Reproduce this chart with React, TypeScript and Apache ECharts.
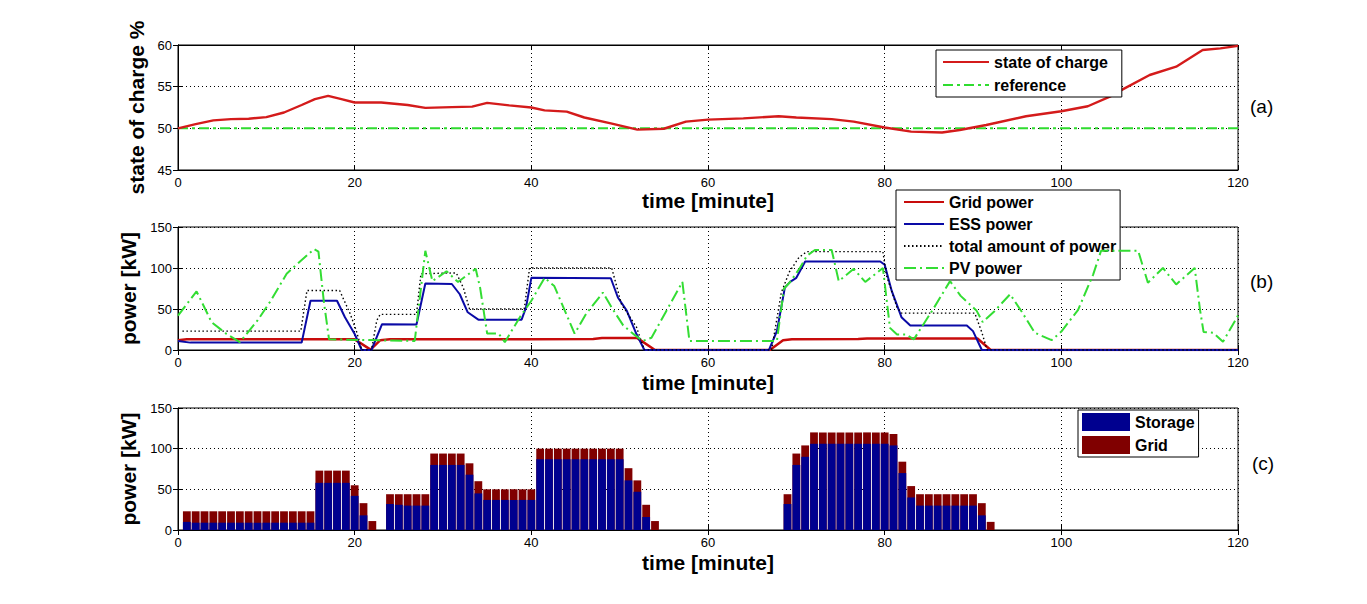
import React, { useEffect, useRef } from "react";
import * as echarts from "echarts";

const xMin = 0;
const xMax = 120;
const xStep = 20;

// (a) state of charge
const socTime = [0, 2, 4, 6, 8, 10, 12, 14, 15.5, 17, 18.5, 20, 23, 26, 28, 31, 33.3, 35, 37.5, 40, 41.5, 44, 46, 49, 52, 55, 57.5, 60, 64, 68, 70, 74, 76.5, 80, 83, 86.5, 88.5, 91.5, 96, 100, 103, 105.5, 107, 110, 113, 116, 118, 120];
const socValue = [50.0, 50.5, 50.95, 51.1, 51.15, 51.35, 51.9, 52.8, 53.5, 53.9, 53.5, 53.1, 53.1, 52.8, 52.45, 52.55, 52.6, 53.05, 52.75, 52.5, 52.15, 52.0, 51.3, 50.6, 49.85, 49.95, 50.8, 51.05, 51.2, 51.45, 51.3, 51.1, 50.8, 50.1, 49.6, 49.5, 49.8, 50.4, 51.45, 52.05, 52.65, 53.8, 54.7, 56.4, 57.4, 59.4, 59.6, 59.9];
const refTime = [0, 120];
const refValue = [50, 50];

// (b) power flows
const gridPowTime = [0, 1, 14, 20, 21.8, 22.9, 24, 40, 47, 48, 52, 54, 67, 68.5, 69.5, 77, 78, 90.5, 92, 120];
const gridPowValue = [12, 13, 13, 13, 0.5, 12, 13, 13, 13.5, 14.5, 14.5, 0, 0, 12, 13, 13.5, 14, 14, 0, 0];

const essTime = [0, 1.4, 14, 15, 18, 18.9, 20, 20.8, 21.9, 23.1, 27, 28, 31, 31.9, 32.8, 34, 38.9, 39.4, 40, 49, 49.8, 50.8, 51.9, 52.8, 66.9, 67.8, 68.7, 69.3, 70, 71, 79.5, 80, 80.8, 81.9, 82.9, 89.3, 90, 91, 120];
const essValue = [11, 9, 9, 60, 60, 40, 19.5, 0, 0, 31.5, 31, 81, 80.5, 68, 46, 37, 37, 52, 88, 87.5, 64, 48, 19.5, 0, 0, 23, 76, 83, 88, 108, 108, 104, 72, 40, 30, 30, 23, 0, 0];

const totalTime = [0.5, 13.9, 14.6, 18.3, 19.5, 20.2, 20.8, 21.9, 22.5, 22.9, 27, 27.5, 31.5, 32.3, 33, 39.2, 39.8, 49.1, 50.2, 51.9, 52.8, 67.2, 68.3, 69.2, 70.3, 71.2, 79.8, 80.2, 81.4, 81.9, 90.2, 91, 91.6, 120];
const totalValue = [23, 23, 72.5, 72.5, 44, 23, 0, 0, 36, 43.5, 43.5, 93, 94, 76, 50, 50, 100, 100, 56, 28, 0, 0, 70, 95, 113, 120, 120, 91, 52, 45, 45, 21.5, 0, 0];

const pvTime = [0, 2.1, 3.8, 5.5, 7, 9, 10.5, 12.3, 13, 15.4, 15.9, 16.5, 17.1, 26.8, 28, 28.8, 30.4, 31.7, 33.7, 34.2, 35, 36.3, 37, 38.7, 40, 41.5, 42.6, 44.9, 46.2, 48.1, 49.2, 50.4, 51.5, 52.6, 53.6, 55.3, 57.1, 57.9, 67.8, 68.6, 69.3, 70.4, 71.2, 72.1, 74, 74.8, 76.5, 77.8, 79.8, 80.6, 81.4, 82.4, 83.3, 85.5, 87.4, 88.6, 90.4, 91.1, 92.4, 94.2, 95.5, 97, 98.9, 100, 101.9, 103.6, 104.5, 108.7, 109.8, 111.5, 113, 115.1, 115.7, 116.1, 117.2, 118.3, 120];
const pvValue = [42, 71.5, 34, 19.5, 9.5, 36, 60, 93, 100, 123, 120, 60, 13, 11, 121, 84, 96, 83, 99, 76, 20, 20, 9.5, 40, 60, 88, 78, 20, 44, 70, 50, 30, 20, 11, 15, 48, 83, 11, 11, 75, 83, 100, 115, 122, 122, 84, 99, 83, 100, 27, 19, 19, 13, 50, 84, 66, 48, 34, 47, 68, 47, 21, 12, 22.5, 49, 92, 121, 121, 82, 100, 80, 100, 49, 22, 21, 10, 42];

// (c) stacked bars
const barTime = [1, 2, 3, 4, 5, 6, 7, 8, 9, 10, 11, 12, 13, 14, 15, 16, 17, 18, 19, 20, 21, 22, 24, 25, 26, 27, 28, 29, 30, 31, 32, 33, 34, 35, 36, 37, 38, 39, 40, 41, 42, 43, 44, 45, 46, 47, 48, 49, 50, 51, 52, 53, 54, 69, 70, 71, 72, 73, 74, 75, 76, 77, 78, 79, 80, 81, 82, 83, 84, 85, 86, 87, 88, 89, 90, 91, 92];
const storageValue = [10, 9, 9, 9, 9, 9, 9, 9, 9, 9, 9, 9, 9, 9, 9, 58, 58, 58, 58, 42, 18, 0, 32, 31, 30, 30, 30, 80, 80, 80, 80, 68, 45, 37, 37, 37, 37, 37, 37, 87, 87, 87, 87, 87, 87, 87, 87, 87, 87, 61, 47, 16, 0, 32, 80, 90, 106, 106, 106, 106, 106, 106, 106, 106, 106, 104, 70, 40, 30, 30, 30, 30, 30, 30, 30, 18, 0];
const gridValue = [13, 14, 14, 14, 14, 14, 14, 14, 14, 14, 14, 14, 14, 14, 14, 15, 15, 15, 15, 13, 15, 11, 12, 13, 14, 14, 14, 14, 14, 14, 14, 14, 15, 13, 13, 13, 13, 13, 13, 13, 13, 13, 13, 13, 13, 13, 13, 13, 13, 15, 14, 15, 11, 12, 14, 14, 14, 14, 14, 14, 14, 14, 14, 14, 14, 14, 14, 14, 14, 14, 14, 14, 14, 14, 14, 15, 10];

const zip = (t: number[], v: number[]) => t.map((x, i) => [x, v[i]]);
// grid bars sit on top of the storage bars (stacked)
const stackTop = (t: number[], a: number[], b: number[]) => t.map((x, i) => [x, a[i] + b[i]]);

const FONT = "'Liberation Sans', Arial, sans-serif";
const PLOT_LEFT = 178;
const PLOT_WIDTH = 1060;
const grids = [
  { top: 45, height: 125 },
  { top: 227, height: 123 },
  { top: 408, height: 122 },
];
const yRanges = [
  { min: 45, max: 60, interval: 5, name: "state of charge %", gap: 26 },
  { min: 0, max: 150, interval: 50, name: "power [kW]", gap: 30 },
  { min: 0, max: 150, interval: 50, name: "power [kW]", gap: 30 },
];
const xNameGaps = [20, 22, 22];

export default function App() {
  const ref = useRef<HTMLDivElement>(null);
  useEffect(() => {
    if (!ref.current) return;
    const chart = echarts.init(ref.current, undefined, { renderer: "svg" });

    const dotted = { type: [1, 3] as any, color: "#000", width: 1 };
    const xAxes: any[] = [];
    const yAxes: any[] = [];
    grids.forEach((g, i) => {
      xAxes.push({
        type: "value", gridIndex: i, min: xMin, max: xMax, interval: xStep,
        position: "bottom",
        name: "time [minute]", nameLocation: "middle", nameGap: xNameGaps[i],
        nameTextStyle: { fontFamily: FONT, fontSize: 21, fontWeight: "bold", color: "#000" },
        axisLine: { show: true, lineStyle: { color: "#000", width: 1 } },
        axisTick: { show: true, inside: true, length: 5, lineStyle: { color: "#000" } },
        axisLabel: { color: "#000", fontFamily: FONT, fontSize: 13, margin: 6 },
        splitLine: { show: true, lineStyle: dotted },
      });
      yAxes.push({
        type: "value", gridIndex: i, min: yRanges[i].min, max: yRanges[i].max, interval: yRanges[i].interval,
        position: "left",
        name: yRanges[i].name, nameLocation: "middle", nameGap: yRanges[i].gap,
        nameTextStyle: { fontFamily: FONT, fontSize: 21, fontWeight: "bold", color: "#000" },
        axisLine: { show: true, lineStyle: { color: "#000", width: 1 } },
        axisTick: { show: true, inside: true, length: 5, lineStyle: { color: "#000" } },
        axisLabel: { color: "#000", fontFamily: FONT, fontSize: 13, margin: 6 },
        splitLine: { show: true, lineStyle: dotted },
      });
    });
    grids.forEach((g, i) => {
      xAxes.push({
        type: "value", gridIndex: i, min: xMin, max: xMax, interval: xStep, position: "top",
        axisLine: { show: true, lineStyle: { color: "#000" } },
        axisTick: { show: true, inside: true, length: 5, lineStyle: { color: "#000" } },
        axisLabel: { show: false }, splitLine: { show: false },
      });
      yAxes.push({
        type: "value", gridIndex: i, min: yRanges[i].min, max: yRanges[i].max, interval: yRanges[i].interval, position: "right",
        axisLine: { show: true, lineStyle: { color: "#000" } },
        axisTick: { show: true, inside: true, length: 5, lineStyle: { color: "#000" } },
        axisLabel: { show: false }, splitLine: { show: false },
      });
    });

    const line = (name: string, xi: number, t: number[], v: number[], color: string, width: number, type: any, z = 2) => ({
      name, type: "line", xAxisIndex: xi, yAxisIndex: xi, data: zip(t, v),
      symbol: "none", showSymbol: false, color, z,
      lineStyle: { color, width, type },
    });

    const legendText = { fontFamily: FONT, fontSize: 16, fontWeight: "bold", color: "#000", lineHeight: 18 };
    const option: any = {
      animation: false,
      backgroundColor: "#fff",
      grid: grids.map((g) => ({ left: PLOT_LEFT, width: PLOT_WIDTH, top: g.top, height: g.height, show: true, borderColor: "#000", borderWidth: 1, backgroundColor: "#fff" })),
      xAxis: xAxes,
      yAxis: yAxes,
      legend: [
        {
          data: ["state of charge", "reference"], orient: "vertical", left: 936, top: 50,
          itemWidth: 46, itemHeight: 14, itemGap: 5, padding: [3, 14, 3, 6],
          itemStyle: { opacity: 0 },
          backgroundColor: "#fff", borderColor: "#000", borderWidth: 1, borderRadius: 0,
          textStyle: legendText, selectedMode: false,
        },
        {
          data: ["Grid power", "ESS power", "total amount of power", "PV power"], orient: "vertical", left: 896, top: 190,
          itemWidth: 40, itemHeight: 14, itemGap: 4, padding: [3, 4, 3, 7],
          itemStyle: { opacity: 0 },
          backgroundColor: "#fff", borderColor: "#000", borderWidth: 1, borderRadius: 0,
          textStyle: legendText, selectedMode: false,
        },
        {
          data: ["Storage", "Grid"], orient: "vertical", left: 1078, top: 410,
          itemWidth: 48, itemHeight: 18, itemGap: 5, padding: [3, 4, 3, 4],
          icon: "rect",
          backgroundColor: "#fff", borderColor: "#000", borderWidth: 1, borderRadius: 0,
          textStyle: legendText, selectedMode: false,
        },
      ],
      graphic: [
        { type: "text", left: 1250, top: 97, style: { text: "(a)", fontFamily: FONT, fontSize: 19, fill: "#000" } },
        { type: "text", left: 1250, top: 272, style: { text: "(b)", fontFamily: FONT, fontSize: 19, fill: "#000" } },
        { type: "text", left: 1252, top: 454, style: { text: "(c)", fontFamily: FONT, fontSize: 19, fill: "#000" } },
      ],
      series: [
        line("state of charge", 0, socTime, socValue, "#d41b1b", 2.4, "solid", 3),
        line("reference", 0, refTime, refValue, "#2fdc2f", 2, [10, 4, 3, 4], 2),
        line("Grid power", 1, gridPowTime, gridPowValue, "#c80c0c", 2.5, "solid", 2),
        line("ESS power", 1, essTime, essValue, "#0a0aa6", 2, "solid", 3),
        line("total amount of power", 1, totalTime, totalValue, "#000", 1.4, [1.5, 2.5], 4),
        line("PV power", 1, pvTime, pvValue, "#33dd33", 2, [12, 4, 2, 4], 5),
        {
          name: "Grid", type: "bar", xAxisIndex: 2, yAxisIndex: 2,
          data: stackTop(barTime, storageValue, gridValue), barWidth: 7.8, barGap: "-100%", color: "#800000",
          itemStyle: { color: "#800000" }, z: 2,
        },
        {
          name: "Storage", type: "bar", xAxisIndex: 2, yAxisIndex: 2,
          data: zip(barTime, storageValue), barWidth: 7.8, barGap: "-100%", color: "#00008f",
          itemStyle: { color: "#00008f" }, z: 3,
        },
      ],
    };
    chart.setOption(option);
    return () => chart.dispose();
  }, []);
  return <div ref={ref} style={{ position: "fixed", left: 0, top: 0, width: 1367, height: 604, background: "#fff" }} />;
}
